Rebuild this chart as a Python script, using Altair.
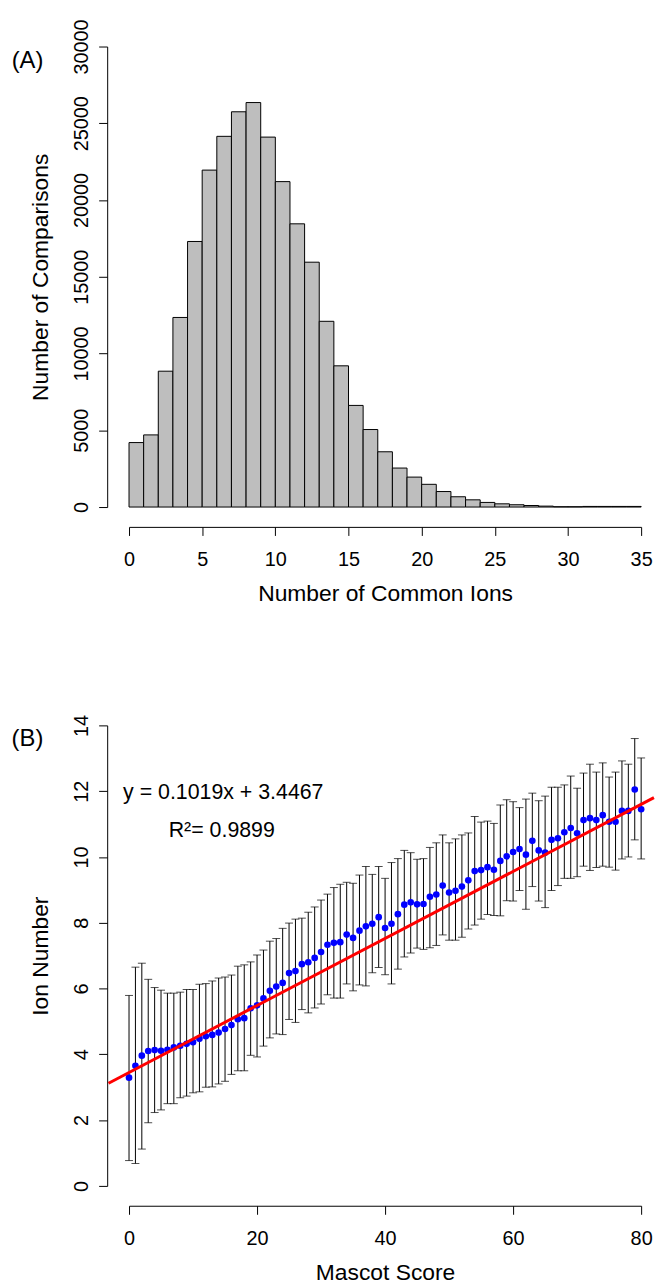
import altair as alt
import pandas as pd

FONT = "Liberation Sans"

# ---------------- Panel A data ----------------
bin_start = list(range(0, 35))
bin_end = list(range(1, 36))
comparisons = [4200, 4700, 8850, 12350, 17300, 21950, 24150, 25750, 26350, 24100,
               21200, 18450, 15950, 12100, 9200, 6620, 5050, 3600, 2540, 1950,
               1480, 1010, 670, 470, 300, 210, 150, 100, 60, 20,
               20, 40, 40, 40, 40]
a_xticks = [0, 5, 10, 15, 20, 25, 30, 35]
a_yticks = [0, 5000, 10000, 15000, 20000, 25000, 30000]

# ---------------- Panel B data ----------------
mascot_score = list(range(0, 81))
ion_mean = [3.29, 3.65, 3.96, 4.10, 4.13, 4.11, 4.14, 4.21, 4.26, 4.32,
            4.37, 4.47, 4.55, 4.59, 4.66, 4.77, 4.89, 5.07, 5.10, 5.40,
            5.49, 5.70, 5.93, 6.06, 6.17, 6.47, 6.53, 6.74, 6.80, 6.93,
            7.11, 7.33, 7.39, 7.41, 7.64, 7.54, 7.76, 7.89, 7.97, 8.17,
            7.84, 7.97, 8.26, 8.55, 8.62, 8.56, 8.57, 8.79, 8.86, 9.13,
            8.92, 8.97, 9.10, 9.29, 9.57, 9.60, 9.69, 9.61, 9.88, 10.02,
            10.15, 10.24, 10.07, 10.49, 10.20, 10.13, 10.52, 10.57, 10.75, 10.88,
            10.72, 11.12, 11.18, 11.12, 11.27, 11.07, 11.07, 11.40, 11.40, 12.05,
            11.45]
ion_high = [5.79, 6.65, 6.77, 6.28, 6.03, 5.95, 5.86, 5.86, 5.89, 5.97,
            5.97, 6.13, 6.15, 6.23, 6.32, 6.35, 6.41, 6.68, 6.72, 6.81,
            7.02, 7.17, 7.44, 7.52, 7.83, 7.99, 8.11, 8.14, 8.32, 8.48,
            8.69, 8.87, 9.07, 9.17, 9.23, 9.20, 9.45, 9.71, 9.47, 9.71,
            9.35, 9.83, 9.95, 10.20, 10.13, 9.93, 9.95, 10.29, 10.43, 10.67,
            10.43, 10.55, 10.67, 10.73, 11.23, 11.06, 11.09, 11.02, 11.58, 11.74,
            11.68, 11.50, 11.76, 11.94, 11.71, 11.85, 12.12, 12.12, 12.19, 12.46,
            12.09, 12.55, 12.82, 12.58, 12.86, 12.43, 12.58, 12.92, 12.82, 13.60,
            13.01]
ion_low = [0.77, 0.68, 1.12, 1.92, 2.23, 2.31, 2.50, 2.50, 2.68, 2.73,
           2.83, 2.86, 3.00, 3.01, 3.10, 3.18, 3.39, 3.50, 3.50, 3.97,
           3.92, 4.25, 4.50, 4.62, 4.60, 5.06, 4.97, 5.36, 5.26, 5.41,
           5.53, 5.81, 5.71, 5.71, 6.14, 5.93, 6.11, 6.08, 6.48, 6.64,
           6.42, 6.14, 6.59, 6.96, 7.08, 7.23, 7.19, 7.24, 7.31, 7.63,
           7.47, 7.47, 7.56, 7.81, 7.93, 8.11, 8.25, 8.22, 8.21, 8.67,
           8.66, 8.98, 8.41, 9.10, 8.66, 8.46, 8.98, 9.13, 9.35, 9.35,
           9.40, 9.72, 9.59, 9.68, 9.72, 9.69, 9.60, 9.94, 10.00, 10.52,
           9.94]
b_xticks = [0, 20, 40, 60, 80]
b_yticks = [0, 2, 4, 6, 8, 10, 12, 14]

# fitted line from the equation shown on the chart
slope = 0.1019
intercept = 3.4467
fit_x = [-3.2, 82.0]
fit_y = [intercept + slope * v for v in fit_x]

eq_text = ["y = 0.1019x + 3.4467"]
r2_text = ["R\u00b2= 0.9899"]

W, H = 516, 464

# ---------------- shared axis styling ----------------
def x_axis(values, title):
    return alt.Axis(values=values, title=title, offset=20, tickSize=8.6,
                    labelPadding=30.7, labelBaseline="alphabetic",
                    titleY=74, titleBaseline="alphabetic",
                    labelFlush=False, labelOverlap=False, labelBound=False,
                    grid=False, format="d")

def y_axis(values, title):
    return alt.Axis(values=values, title=title, offset=22, tickSize=8.6,
                    labelAngle=270, labelAlign="center", labelBaseline="alphabetic",
                    labelPadding=11.4, titleX=-60, titleBaseline="alphabetic",
                    labelFlush=False, labelOverlap=False, labelBound=False,
                    grid=False, format="d")

# ---------------- Panel A ----------------
hist_df = pd.DataFrame({"start": bin_start, "end": bin_end, "count": comparisons})
xsA = alt.Scale(domain=[0, 35], nice=False, zero=False)
ysA = alt.Scale(domain=[0, 30000], nice=False)
axA_x = x_axis(a_xticks, "Number of Common Ions")
axA_y = y_axis(a_yticks, "Number of Comparisons")

bars = alt.Chart(hist_df).mark_bar(fill="#BEBEBE", stroke="black", strokeWidth=1).encode(
    x=alt.X("start:Q", scale=xsA, axis=axA_x),
    x2="end:Q",
    y=alt.Y("count:Q", scale=ysA, axis=axA_y),
    y2=alt.datum(0),
)
labA = alt.Chart(pd.DataFrame({"start": [-8.02], "count": [29077], "t": ["(A)"]})).mark_text(
    align="left", baseline="middle", fontSize=24, font=FONT, color="black"
).encode(
    x=alt.X("start:Q", scale=xsA, axis=axA_x),
    y=alt.Y("count:Q", scale=ysA, axis=axA_y),
    text="t:N",
)
panelA = alt.layer(bars, labA).properties(width=W, height=H)

# ---------------- Panel B ----------------
pts_df = pd.DataFrame({"score": mascot_score, "ion": ion_mean, "lo": ion_low, "hi": ion_high})
xsB = alt.Scale(domain=[0, 80], nice=False, zero=False)
ysB = alt.Scale(domain=[0, 14], nice=False)
axB_x = x_axis(b_xticks, "Mascot Score")
axB_y = y_axis(b_yticks, "Ion Number")

XB = alt.X("score:Q", scale=xsB, axis=axB_x)

bars_err = alt.Chart(pts_df).mark_rule(color="black", strokeWidth=1).encode(
    x=XB, y=alt.Y("lo:Q", scale=ysB, axis=axB_y), y2="hi:Q"
)
cap_lo = alt.Chart(pts_df).mark_tick(orient="horizontal", size=8, thickness=1, color="black").encode(
    x=XB, y=alt.Y("lo:Q", scale=ysB, axis=axB_y)
)
cap_hi = alt.Chart(pts_df).mark_tick(orient="horizontal", size=8, thickness=1, color="black").encode(
    x=XB, y=alt.Y("hi:Q", scale=ysB, axis=axB_y)
)
points = alt.Chart(pts_df).mark_circle(size=45, color="#0000FF", opacity=1).encode(
    x=XB, y=alt.Y("ion:Q", scale=ysB, axis=axB_y)
)
fit = alt.Chart(pd.DataFrame({"score": fit_x, "ion": fit_y})).mark_line(
    color="#FF0000", strokeWidth=3
).encode(x=XB, y=alt.Y("ion:Q", scale=ysB, axis=axB_y))

eq = alt.Chart(pd.DataFrame({"score": [-0.93], "ion": [11.76], "t": eq_text})).mark_text(
    align="left", baseline="alphabetic", fontSize=21.5, font=FONT, color="black"
).encode(x=XB, y=alt.Y("ion:Q", scale=ysB, axis=axB_y), text="t:N")
r2 = alt.Chart(pd.DataFrame({"score": [6.2], "ion": [10.60], "t": r2_text})).mark_text(
    align="left", baseline="alphabetic", fontSize=21.5, font=FONT, color="black"
).encode(x=XB, y=alt.Y("ion:Q", scale=ysB, axis=axB_y), text="t:N")
labB = alt.Chart(pd.DataFrame({"score": [-18.34], "ion": [13.59], "t": ["(B)"]})).mark_text(
    align="left", baseline="middle", fontSize=24, font=FONT, color="black"
).encode(x=XB, y=alt.Y("ion:Q", scale=ysB, axis=axB_y), text="t:N")

panelB = alt.layer(bars_err, cap_lo, cap_hi, points, fit, eq, r2, labB).properties(width=W, height=H)

chart = alt.vconcat(panelA, panelB, spacing=109).properties(
    padding={"left": 11, "top": 14, "right": 0, "bottom": 0},
    background="white",
).configure_view(stroke=None).configure_axis(
    domainColor="black", tickColor="black", labelColor="black", titleColor="black",
    labelFont=FONT, titleFont=FONT, labelFontSize=20, titleFontSize=23,
    titleFontWeight="normal", domainWidth=1, tickWidth=1,
).configure_text(font=FONT)

chart.save("out.html", embed_options={"renderer": "svg", "actions": False})
